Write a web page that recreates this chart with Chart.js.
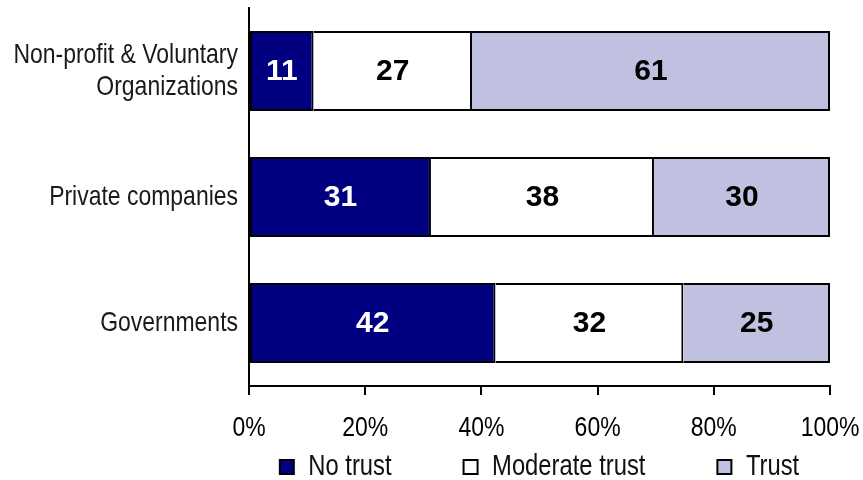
<!DOCTYPE html>
<html>
<head>
<meta charset="utf-8">
<script src="https://cdn.jsdelivr.net/npm/chart.js@4/dist/chart.umd.min.js"></script>
<style>
  html, body { margin: 0; padding: 0; background: #ffffff; }
  #wrap { width: 863px; height: 480px; }
</style>
</head>
<body>
<div id="wrap"><canvas id="c" width="863" height="480"></canvas></div>
<script>
// Trust in institutions (counts per answer, shown as 100% stacked shares)
const categories = [['Non-profit & Voluntary', 'Organizations'], 'Private companies', 'Governments'];
const seriesNames = ['No trust', 'Moderate trust', 'Trust'];
const noTrust = [11, 31, 42];
const moderateTrust = [27, 38, 32];
const trust = [61, 30, 25];
const xTicks = [0, 20, 40, 60, 80, 100];

const seriesValues = [noTrust, moderateTrust, trust];
const seriesColors = ['#000080', '#ffffff', '#c0c0e0'];
const labelColors = ['#ffffff', '#000000', '#000000'];

// share of each answer within its row, so every row fills 0..100%
const rowTotals = categories.map((_, i) => seriesValues.reduce((s, arr) => s + arr[i], 0));
const toShare = arr => arr.map((v, i) => v / rowTotals[i] * 100);

// Condensed text: no narrow face is installed, so text set in this family list
// is drawn with Liberation Sans squeezed horizontally to Arial Narrow proportions.
const NARROW_TAG = 'Arial Narrow';
const NARROW_SX = 0.82;
const narrow = "'Liberation Sans', '" + NARROW_TAG + "', Arial, sans-serif";

const canvas = document.getElementById('c');
const ctx2d = canvas.getContext('2d');
const proto = CanvasRenderingContext2D.prototype;
ctx2d.fillText = function (text, x, y, maxWidth) {
  if (this.font.indexOf(NARROW_TAG) !== -1) {
    this.save();
    this.translate(x, y);
    this.scale(NARROW_SX, 1);
    if (maxWidth !== undefined) proto.fillText.call(this, text, 0, 0, maxWidth / NARROW_SX);
    else proto.fillText.call(this, text, 0, 0);
    this.restore();
  } else {
    proto.fillText.apply(this, arguments);
  }
};
ctx2d.measureText = function (text) {
  const m = proto.measureText.call(this, text);
  if (this.font.indexOf(NARROW_TAG) === -1) return m;
  return {
    width: m.width * NARROW_SX,
    actualBoundingBoxLeft: m.actualBoundingBoxLeft * NARROW_SX,
    actualBoundingBoxRight: m.actualBoundingBoxRight * NARROW_SX,
    actualBoundingBoxAscent: m.actualBoundingBoxAscent,
    actualBoundingBoxDescent: m.actualBoundingBoxDescent,
    fontBoundingBoxAscent: m.fontBoundingBoxAscent,
    fontBoundingBoxDescent: m.fontBoundingBoxDescent
  };
};

// value labels centred in each bar segment
const segmentLabels = {
  id: 'segmentLabels',
  afterDatasetsDraw(chart) {
    const ctx = chart.ctx;
    ctx.save();
    ctx.font = 'bold 30px "Liberation Sans", Arial, sans-serif';
    ctx.textAlign = 'center';
    ctx.textBaseline = 'middle';
    chart.data.datasets.forEach((ds, di) => {
      const meta = chart.getDatasetMeta(di);
      meta.data.forEach((bar, i) => {
        const cx = (bar.x + bar.base) / 2;
        ctx.fillStyle = labelColors[di];
        ctx.fillText(String(ds.rawValues[i]), cx, bar.y + 1);
      });
    });
    ctx.restore();
  }
};

// keep the legend centred under the plot area, on its own row at the bottom
const legendPlacement = {
  id: 'legendPlacement',
  afterLayout(chart) {
    const lg = chart.legend;
    const area = chart.chartArea;
    const dx = (area.left + area.right) / 2 - (lg.left + lg.right) / 2;
    lg.left += dx;
    lg.right += dx;
    lg.top = 380.5;
    lg.bottom = 480;
  }
};

new Chart(canvas, {
  type: 'bar',
  data: {
    labels: categories,
    datasets: seriesNames.map((name, di) => ({
      label: name,
      data: toShare(seriesValues[di]),
      rawValues: seriesValues[di],
      backgroundColor: seriesColors[di],
      borderColor: '#000000',
      borderWidth: 2,
      borderSkipped: di === 0 ? false : 'left',
      barPercentage: 0.635,
      categoryPercentage: 1
    }))
  },
  options: {
    indexAxis: 'y',
    responsive: false,
    animation: false,
    events: [],
    layout: { padding: { left: 0, right: 33, top: 8, bottom: 0 } },
    scales: {
      x: {
        stacked: true,
        min: 0,
        max: 100,
        afterBuildTicks(scale) { scale.ticks = xTicks.map(v => ({ value: v })); },
        afterFit(scale) {
          scale.height = 60;
          scale.paddingLeft = 0;
          scale.paddingRight = 0;
        },
        ticks: {
          callback: v => v + '%',
          color: '#000000',
          padding: 16,
          maxRotation: 0,
          font: { family: narrow, size: 28 }
        },
        grid: {
          display: true,
          drawOnChartArea: false,
          drawTicks: true,
          tickLength: 9,
          color: '#000000',
          lineWidth: 2
        },
        border: { display: true, color: '#000000', width: 2 }
      },
      y: {
        stacked: true,
        afterFit(scale) {
          scale.width = 249;
          scale.paddingTop = 0;
          scale.paddingBottom = 0;
        },
        ticks: {
          color: '#1a1a1a',
          padding: 11,
          font: { family: narrow, size: 28, lineHeight: 1.15 }
        },
        grid: { display: false, drawTicks: false },
        border: { display: true, color: '#000000', width: 2 }
      }
    },
    plugins: {
      tooltip: { enabled: false },
      legend: {
        position: 'bottom',
        maxHeight: 34,
        labels: {
          boxWidth: 14,
          boxHeight: 14,
          padding: 72,
          color: '#111111',
          font: { family: narrow, size: 29 }
        }
      }
    }
  },
  plugins: [segmentLabels, legendPlacement]
});
</script>
</body>
</html>
